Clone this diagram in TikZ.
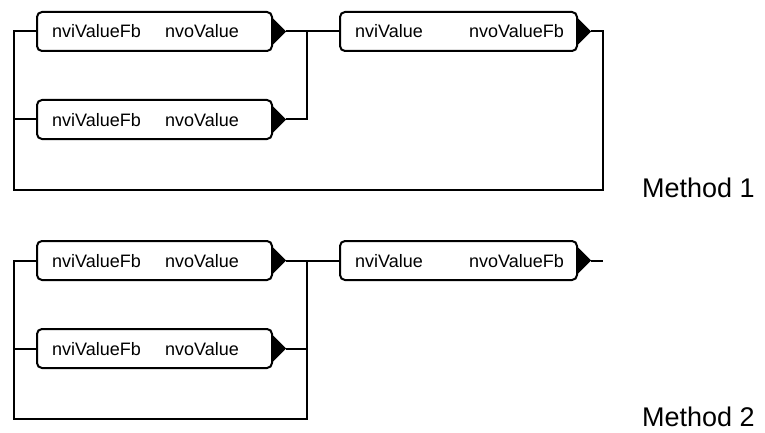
\documentclass[tikz,border=0pt]{standalone}
\usepackage{fontspec}
\setmainfont{Liberation Sans}
\begin{document}
\begin{tikzpicture}[x=1pt,y=-1pt,
  fbbox/.style={draw, line width=2pt, rounded corners=5pt, minimum height=39pt, inner sep=0pt},
  wire/.style={line width=2pt},
  tri/.style={fill=black},
  lbl/.style={anchor=base west, inner sep=0pt, font=\fontsize{18}{20}\selectfont},
  lblr/.style={anchor=base east, inner sep=0pt, font=\fontsize{18}{20}\selectfont},
  mlbl/.style={anchor=base west, inner sep=0pt, font=\fontsize{27}{30}\selectfont}]
\useasboundingbox (0,0) rectangle (765,433);

% ---------- Method 1 ----------
\node[fbbox, minimum width=235pt] (a1) at (154.5,31.5) {};
\node[fbbox, minimum width=235pt] (b1) at (154.5,119.5) {};
\node[fbbox, minimum width=237pt] (c1) at (458.5,31.5) {};
\node[lbl] (a1i) at (52,38) {nviValueFb};
\node[lbl] (a1o) at (165,38) {nvoValue};
\node[lbl] (b1i) at (52,126) {nviValueFb};
\node[lbl] (b1o) at (165,126) {nvoValue};
\node[lbl] (c1i) at (355,38) {nviValue};
\node[lblr] (c1o) at (564,38) {nvoValueFb};

\foreach \n in {a1,b1,c1}{
  \coordinate (\n t) at ([xshift=13pt]\n.east);
  \fill[tri] ([yshift=-13pt]\n.east) -- (\n t) -- ([yshift=13pt]\n.east) -- cycle;
}
\coordinate (m1tl) at (14,31.5);
\coordinate (m1bl) at (14,190);
\coordinate (m1br) at (603,190);
\coordinate (m1tr) at (603,31.5);
\coordinate (j1) at (307,31.5);

\draw[wire] (c1t) -- (m1tr) -- (m1br) -- (m1bl) -- (m1tl) -- (a1.west);
\draw[wire] (b1.west) -- (b1.west -| m1tl);
\draw[wire] (a1t) -- (c1.west);
\draw[wire] (b1t) -| (j1);

\node[mlbl] (meth1) at (642,197) {Method 1};

% ---------- Method 2 ----------
\node[fbbox, minimum width=235pt] (a2) at (154.5,260.5) {};
\node[fbbox, minimum width=235pt] (b2) at (154.5,348.5) {};
\node[fbbox, minimum width=237pt] (c2) at (458.5,260.5) {};
\node[lbl] (a2i) at (52,267) {nviValueFb};
\node[lbl] (a2o) at (165,267) {nvoValue};
\node[lbl] (b2i) at (52,355) {nviValueFb};
\node[lbl] (b2o) at (165,355) {nvoValue};
\node[lbl] (c2i) at (355,267) {nviValue};
\node[lblr] (c2o) at (564,267) {nvoValueFb};

\foreach \n in {a2,b2,c2}{
  \coordinate (\n t) at ([xshift=13pt]\n.east);
  \fill[tri] ([yshift=-13pt]\n.east) -- (\n t) -- ([yshift=13pt]\n.east) -- cycle;
}
\coordinate (m2tl) at (14,260.5);
\coordinate (m2bl) at (14,419);
\coordinate (m2br) at (307,419);
\coordinate (m2tr) at (307,260.5);
\coordinate (c2end) at (603,260.5);

\draw[wire] (a2.west) -- (m2tl) -- (m2bl) -- (m2br) -- (m2tr);
\draw[wire] (b2.west) -- (b2.west -| m2tl);
\draw[wire] (a2t) -- (c2.west);
\draw[wire] (b2t) -- (b2t -| m2br);
\draw[wire] (c2t) -- (c2end);

\node[mlbl] (meth2) at (642,426) {Method 2};
\end{tikzpicture}
\end{document}
